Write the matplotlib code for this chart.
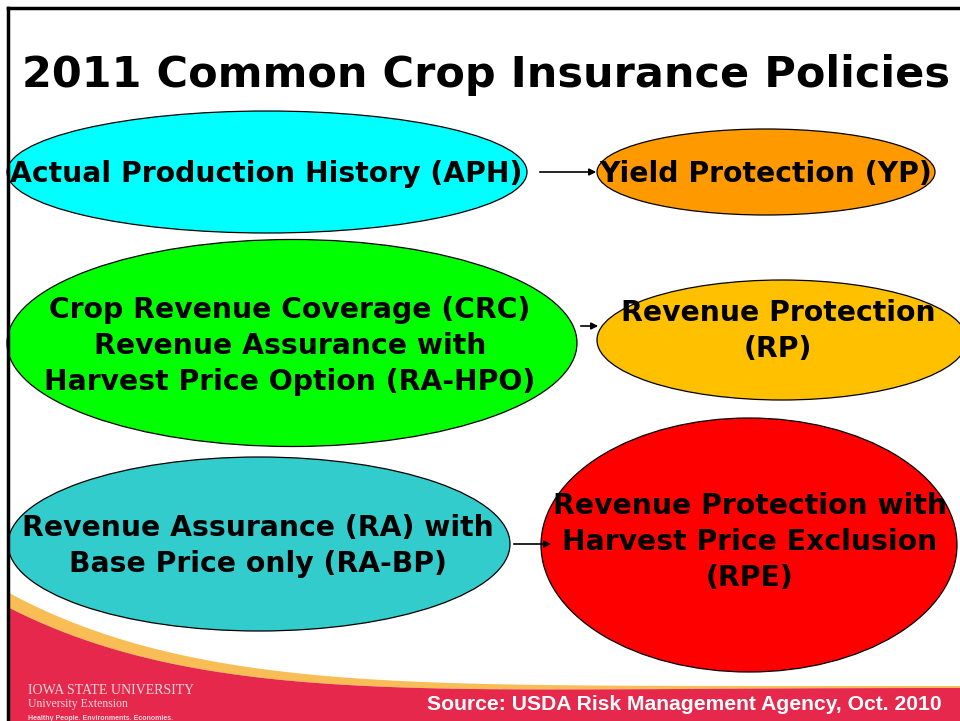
import numpy as np
import matplotlib.pyplot as plt
from matplotlib.patches import Ellipse, Polygon
from matplotlib.lines import Line2D

# slide text
title = '2011 Common Crop Insurance Policies'
policies = [
    'Actual Production History (APH)',
    'Yield Protection (YP)',
    'Crop Revenue Coverage (CRC)\nRevenue Assurance with\nHarvest Price Option (RA-HPO)',
    'Revenue Protection\n(RP)',
    'Revenue Assurance (RA) with\nBase Price only (RA-BP)',
    'Revenue Protection with\nHarvest Price Exclusion\n(RPE)',
]
links = [(0, 1), (2, 3), (4, 5)]
source = 'Source: USDA Risk Management Agency, Oct. 2010'

# layout (pixel units, y downward)
centers = [(267, 172), (766, 172), (292, 343), (782, 340), (259, 544), (749, 545)]
sizes = [(520, 122), (338, 86), (570, 207), (370, 120), (502, 174), (416, 254)]
text_pos = [(266, 174), (766, 174), (290, 346), (778, 331), (258, 546), (750, 542)]
fills = ['#00FFFF', '#FF9900', '#00FF00', '#FFC000', '#33CCCC', '#FF0000']
arrow_xy = [((537, 172), (599, 172)), ((578, 326), (601, 326)), ((511, 544), (554, 544))]

fig = plt.figure(figsize=(9.6, 7.21), dpi=100)
ax = fig.add_axes([0, 0, 1, 1])
ax.set_xlim(0, 960)
ax.set_ylim(721, 0)
ax.axis('off')

# footer swoosh
xs = np.linspace(8, 960, 300)
top = 686 - 98 * (1 - xs / 960) ** 5.5
thick = 13 * (1 - xs / 960) ** 2 + 2
band = np.column_stack([np.r_[xs, xs[::-1]], np.r_[top, (top + thick)[::-1]]])
ax.add_patch(Polygon(band, closed=True, facecolor='#F8BD55', edgecolor='none', zorder=1))
red = np.column_stack([np.r_[xs, 960, 8], np.r_[top + thick, 721, 721]])
ax.add_patch(Polygon(red, closed=True, facecolor='#E5284B', edgecolor='none', zorder=1))

# ellipses
for (cx, cy), (w, h), c in zip(centers, sizes, fills):
    ax.add_patch(Ellipse((cx, cy), w, h, facecolor=c, edgecolor='black', lw=0.9, zorder=2))

for lab, (tx, ty) in zip(policies, text_pos):
    ax.text(tx, ty, lab, ha='center', va='center', fontsize=20.3, fontweight='bold',
            family='DejaVu Sans', linespacing=1.37, zorder=4)

for (a, b) in arrow_xy:
    ax.annotate('', xy=b, xytext=a,
                arrowprops=dict(arrowstyle='-|>', color='black', lw=1.2, mutation_scale=10),
                zorder=3)

ax.text(486, 75, title, ha='center', va='center', fontsize=31, fontweight='bold',
        family='DejaVu Sans', zorder=4)

# footer text
ax.text(684, 705, source, ha='center', va='center', fontsize=15.2, fontweight='bold',
        color='white', family='Liberation Sans', zorder=4)
ax.text(28, 690, 'IOWA STATE UNIVERSITY', ha='left', va='center', fontsize=10,
        color='#F8D7DE', family='Liberation Serif', zorder=4)
ax.text(28, 704, 'University Extension', ha='left', va='center', fontsize=8.5,
        color='#F8D7DE', family='Liberation Serif', zorder=4)
ax.text(28, 718, 'Healthy People. Environments. Economies.', ha='left', va='center',
        fontsize=5, fontweight='bold', color='#F8D7DE', family='Liberation Sans', zorder=4)

# slide frame
fig.add_artist(Line2D([8 / 960, 1], [1 - 8 / 721] * 2, color='black', lw=2.5))
fig.add_artist(Line2D([8 / 960] * 2, [0, 1 - 8 / 721], color='black', lw=2.5))

fig.savefig('out.png', dpi=100)
